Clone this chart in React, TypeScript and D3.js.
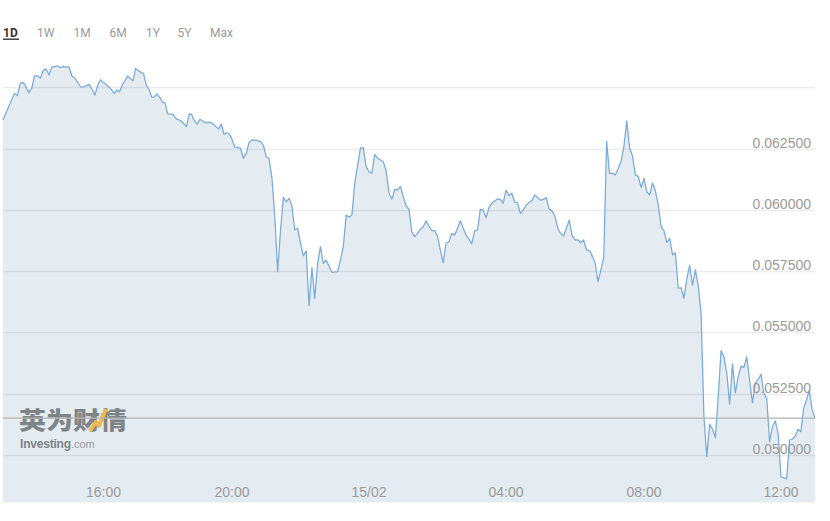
import React from "react";
import * as d3 from "d3";

// ---- data (5-minute closes, 14/02 13:05 -> 15/02 13:00) ----
const times = [
  "13:05","13:10","13:15","13:25","13:30","13:35","13:40","13:45","13:50","13:55",
  "14:00","14:05","14:10","14:15","14:20","14:25","14:30","14:40","14:45","14:50",
  "14:55","15:00","15:05","15:10","15:20","15:25","15:35","15:40","15:45","15:50",
  "15:55","16:00","16:10","16:15","16:20","16:25","16:30","16:35","16:40","16:45",
  "16:55","17:00","17:05","17:15","17:20","17:25","17:30","17:35","17:40","17:45",
  "17:50","17:55","18:00","18:10","18:15","18:25","18:35","18:40","18:45","18:50",
  "18:55","19:00","19:10","19:20","19:25","19:35","19:40","19:45","19:50","19:55",
  "20:00","20:05","20:15","20:20","20:25","20:30","20:35","20:45","20:50","20:55",
  "21:00","21:05","21:10","21:15","21:20","21:25","21:30","21:35","21:40","21:45",
  "21:50","21:55","22:00","22:05","22:10","22:15","22:20","22:25","22:30","22:35",
  "22:40","22:45","22:55","23:05","23:10","23:15","23:20","23:25","23:30","23:35",
  "23:45","23:50","23:55","00:00","00:05","00:10","00:15","00:25","00:30","00:35",
  "00:40","00:45","00:50","00:55","01:00","01:05","01:10","01:15","01:20","01:25",
  "01:30","01:35","01:40","01:45","01:50","01:55","02:00","02:05","02:10","02:15",
  "02:20","02:25","02:30","02:35","02:40","02:45","02:50","02:55","03:00","03:05",
  "03:10","03:15","03:20","03:25","03:30","03:35","03:45","03:50","03:55","04:00",
  "04:05","04:10","04:15","04:20","04:25","04:30","04:35","04:45","04:50","05:00",
  "05:05","05:10","05:15","05:20","05:25","05:30","05:35","05:40","05:50","05:55",
  "06:00","06:05","06:10","06:15","06:20","06:25","06:30","06:35","06:40","06:45",
  "06:50","06:55","07:00","07:05","07:10","07:15","07:20","07:25","07:30","07:35",
  "07:40","07:45","07:50","07:55","08:00","08:05","08:10","08:15","08:20","08:25",
  "08:30","08:35","08:40","08:45","08:50","08:55","09:00","09:05","09:10","09:15",
  "09:20","09:25","09:30","09:35","09:40","09:45","09:50","09:55","10:00","10:05",
  "10:10","10:15","10:20","10:25","10:30","10:35","10:40","10:45","10:50","10:55",
  "11:00","11:05","11:10","11:15","11:20","11:25","11:30","11:35","11:40","11:45",
  "11:50","11:55","12:00","12:05","12:10","12:15","12:20","12:25","12:30","12:35",
  "12:40","12:45","12:50","12:55","13:00"
];

const prices = [
  0.06367,0.06395,0.06422,0.06476,0.06467,0.06517,0.06521,0.06503,0.06479,0.06497,
  0.06547,0.06548,0.06538,0.06569,0.06576,0.06551,0.06583,0.06588,0.06581,0.06585,
  0.06583,0.06584,0.06547,0.06538,0.06503,0.06502,0.06513,0.06493,0.06469,0.0651,
  0.06531,0.0652,0.06503,0.0649,0.06476,0.0649,0.06483,0.0651,0.06527,0.06547,
  0.06527,0.06578,0.06569,0.06555,0.0651,0.06493,0.06461,0.06462,0.06473,0.0646,
  0.0644,0.06436,0.06392,0.0639,0.06374,0.06363,0.0634,0.06392,0.06388,0.06363,
  0.0635,0.0637,0.06356,0.06358,0.0635,0.06331,0.06351,0.06309,0.06315,0.0631,
  0.06288,0.06256,0.06252,0.06211,0.06231,0.06276,0.06286,0.06283,0.06279,0.06265,
  0.06217,0.06209,0.06129,0.05972,0.05748,0.05918,0.06051,0.06033,0.06047,0.06016,
  0.05918,0.05925,0.05864,0.05813,0.05833,0.05609,0.05764,0.05639,0.05782,0.0585,
  0.05782,0.05795,0.05745,0.05748,0.05795,0.0585,0.05979,0.0597,0.05979,0.06109,
  0.06252,0.06254,0.06176,0.06156,0.0615,0.06227,0.06211,0.06197,0.0616,0.0607,
  0.06043,0.06084,0.06081,0.06095,0.06054,0.06016,0.06004,0.05909,0.05891,0.05904,
  0.05921,0.05931,0.05955,0.05934,0.05915,0.05915,0.05893,0.05836,0.05784,0.05864,
  0.0587,0.05904,0.05897,0.05925,0.05956,0.05925,0.05897,0.05881,0.05861,0.05914,
  0.05918,0.06002,0.06,0.05968,0.06007,0.06027,0.06045,0.06043,0.06027,0.06081,
  0.06058,0.06068,0.06032,0.06029,0.05986,0.05999,0.0602,0.06038,0.06061,0.0604,
  0.06043,0.0605,0.06004,0.05996,0.05975,0.05925,0.05904,0.05893,0.05958,0.05895,
  0.05878,0.05878,0.05866,0.05877,0.05836,0.05832,0.05812,0.05783,0.05707,0.05755,
  0.05806,0.0628,0.06149,0.0615,0.06143,0.06168,0.06197,0.06257,0.06364,0.06253,
  0.0622,0.06143,0.06137,0.06092,0.06129,0.06073,0.06062,0.0611,0.06077,0.0602,
  0.05931,0.05915,0.05867,0.05884,0.05816,0.05825,0.0568,0.05682,0.05639,0.05718,
  0.05774,0.05693,0.05755,0.05691,0.05578,0.05155,0.04993,0.05125,0.05105,0.05069,
  0.05237,0.05425,0.054,0.05333,0.05207,0.05371,0.05253,0.05319,0.05362,0.05357,
  0.054,0.05305,0.05212,0.05292,0.05308,0.05328,0.05251,0.0523,0.05053,0.05114,
  0.05138,0.05087,0.04908,0.04906,0.04901,0.0506,0.05064,0.05074,0.05104,0.05094,
  0.0519,0.05223,0.05264,0.05183,0.05149
];

const yTicks = [0.05, 0.0525, 0.055, 0.0575, 0.06, 0.0625, 0.065];
const yLabelTicks = [0.05, 0.0525, 0.055, 0.0575, 0.06, 0.0625];
const tabs = ["1D", "1W", "1M", "6M", "1Y", "5Y", "Max"];

// ---- layout ----
const W = 830;
const H = 521;
const LEFT = 3;
const RIGHT = 815;
const BOTTOM = 502.5;
const tabX = [3, 37, 73.5, 109.5, 146, 177.5, 210];

export default function App() {
  let day = 14;
  let prev = -1;
  const data = times.map((s, i) => {
    const [h, m] = s.split(":").map(Number);
    const mins = h * 60 + m;
    if (prev >= 0 && mins < prev) day += 1;
    prev = mins;
    return { date: new Date(2025, 1, day, h, m), value: prices[i] };
  });

  // ordinal-like time axis: piecewise mapping of anchor times
  const anchors = [
    new Date(2025, 1, 14, 13, 5),
    new Date(2025, 1, 14, 16, 0),
    new Date(2025, 1, 14, 20, 0),
    new Date(2025, 1, 15, 0, 0),
    new Date(2025, 1, 15, 4, 0),
    new Date(2025, 1, 15, 8, 0),
    new Date(2025, 1, 15, 12, 0),
    new Date(2025, 1, 15, 13, 0),
  ];
  const x = d3
    .scaleTime()
    .domain(anchors)
    .range([LEFT, 103.5, 232, 369, 506, 644, 781, RIGHT]);
  const y = d3.scaleLinear().domain([0.05, 0.0625]).range([454.7, 148.7]);

  const line = d3
    .line<{ date: Date; value: number }>()
    .x((d) => x(d.date))
    .y((d) => y(d.value));
  const area = d3
    .area<{ date: Date; value: number }>()
    .x((d) => x(d.date))
    .y0(BOTTOM)
    .y1((d) => y(d.value));

  const xTicks = x.ticks(d3.timeHour.every(4)!);
  const fmtTime = d3.timeFormat("%H:%M");
  const fmtDay = d3.timeFormat("%d/%m");
  const fmtY = d3.format(".6f");
  const last = data[data.length - 1].value;

  const axisFont = "'Liberation Sans', Arial, sans-serif";

  return (
    <svg
      width={W}
      height={H}
      style={{ position: "absolute", left: 0, top: 0, background: "#fff" }}
    >
      {/* tabs */}
      {tabs.map((t, i) => (
        <text
          key={t}
          x={tabX[i]}
          y={36.5}
          fontFamily="Roboto, 'Noto Sans', sans-serif"
          fontSize={12}
          fontWeight={i === 0 ? 700 : 400}
          fill={i === 0 ? "#333" : "#9a9a9a"}
        >
          {t}
        </text>
      ))}
      <rect x={3} y={38.5} width={16} height={1.4} fill="#333" />

      {/* area fill */}
      <path d={area(data) || ""} fill="#e4ecf2" />

      {/* grid lines */}
      {yTicks.map((v) => (
        <line
          key={v}
          x1={LEFT}
          x2={RIGHT}
          y1={Math.round(y(v)) + 0.5}
          y2={Math.round(y(v)) + 0.5}
          stroke="rgba(0,0,0,0.075)"
          strokeWidth={1.3}
        />
      ))}

      {/* watermark */}
      <g opacity={0.85}>
        <text
          x={19}
          y={429}
          fontFamily="'Noto Sans CJK SC', sans-serif"
          fontWeight={900}
          fontSize={24}
          fill="#6d7276"
          textLength={108}
          lengthAdjust="spacingAndGlyphs"
        >
          英为财情
        </text>
        <path
          d="M 90 431 L 96 422 L 99 426 L 106 409"
          fill="none"
          stroke="#f2b22e"
          strokeWidth={4}
          strokeLinejoin="round"
        />
        <text x={20} y={447.5} fontFamily="'Liberation Sans', Arial, sans-serif">
          <tspan fontSize={12} fontWeight={700} fill="#6d7276" letterSpacing={-0.2}>
            Investing
          </tspan>
          <tspan fontSize={11} fill="#8a8e92">
            .com
          </tspan>
        </text>
      </g>

      {/* price line */}
      <path
        d={line(data) || ""}
        fill="none"
        stroke="#79aad9"
        strokeWidth={1.25}
        strokeLinejoin="round"
      />

      {/* last price line */}
      <line
        x1={LEFT}
        x2={RIGHT}
        y1={y(last)}
        y2={y(last)}
        stroke="#b3b3b3"
        strokeWidth={1.2}
      />

      {/* y labels */}
      {yLabelTicks.map((v) => (
        <text
          key={v}
          x={811}
          y={y(v) - 1}
          textAnchor="end"
          fontFamily={axisFont}
          fontSize={14}
          fill="#9c9a98"
        >
          {fmtY(v)}
        </text>
      ))}

      {/* x labels */}
      {xTicks.map((d) => (
        <text
          key={+d}
          x={x(d)}
          y={497}
          textAnchor="middle"
          fontFamily={axisFont}
          fontSize={14}
          fill="#9c9a98"
        >
          {d.getHours() === 0 ? fmtDay(d) : fmtTime(d)}
        </text>
      ))}
    </svg>
  );
}
